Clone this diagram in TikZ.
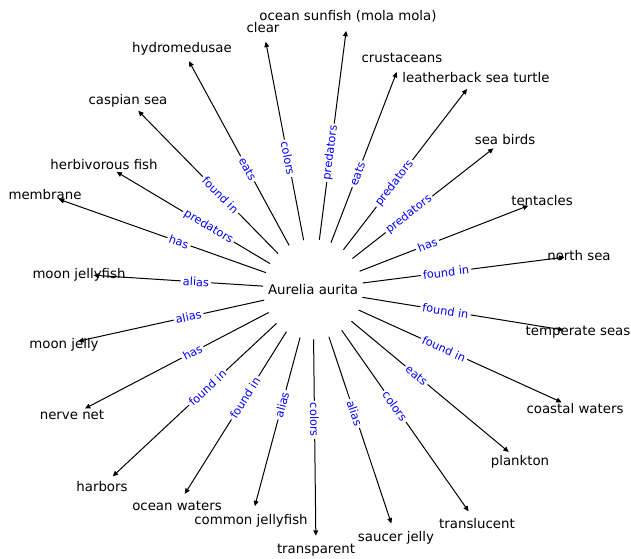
\documentclass[tikz,border=0pt]{standalone}
\usepackage{fontspec}
\setmainfont{DejaVu Sans}
\usetikzlibrary{arrows.meta}
\definecolor{relB}{HTML}{0000FF}

\tikzset{
  ent/.style={font=\fontsize{10}{12}\selectfont, inner sep=0pt, yshift=-1pt},
  rel/.style={midway, sloped, fill=white, text=relB, rounded corners=2pt,
    inner sep=1.6pt, font=\fontsize{8.5}{10}\selectfont},
  link/.style={-{Triangle[length=4pt,width=3.6pt]}, line width=0.75pt,
    shorten <=37.5pt, shorten >=11pt}
}

\begin{document}
\begin{tikzpicture}[x=0.75pt,y=-0.75pt]
\useasboundingbox (0,0) rectangle (631,559);
\node[ent] (hub) at (313,288) {Aurelia aurita};
\node[ent] (sunfish) at (348,15) {ocean sunfish (mola mola)};
\node[ent] (clear) at (263,26) {clear};
\node[ent] (hydro) at (182,47) {hydromedusae};
\node[ent] (caspian) at (128,99) {caspian sea};
\node[ent] (herbfish) at (104,163) {herbivorous fish};
\node[ent] (membrane) at (45,193) {membrane};
\node[ent] (moonjf) at (79,273) {moon jellyfish};
\node[ent] (moonj) at (64,343) {moon jelly};
\node[ent] (nerve) at (72,414) {nerve net};
\node[ent] (harbors) at (102,485) {harbors};
\node[ent] (oceanw) at (177,505) {ocean waters};
\node[ent] (common) at (251,519) {common jellyfish};
\node[ent] (transp) at (316,549) {transparent};
\node[ent] (saucer) at (396,536) {saucer jelly};
\node[ent] (transl) at (477,522) {translucent};
\node[ent] (plankton) at (520,460) {plankton};
\node[ent] (coastal) at (575,407) {coastal waters};
\node[ent] (temperate) at (578,331) {temperate seas};
\node[ent] (northsea) at (579,254) {north sea};
\node[ent] (tentacles) at (542,199) {tentacles};
\node[ent] (seabirds) at (505,138) {sea birds};
\node[ent] (turtle) at (476,76) {leatherback sea turtle};
\node[ent] (crust) at (402,57) {crustaceans};

\foreach \t/\r in {sunfish/predators, clear/colors, hydro/eats, caspian/found in,
    herbfish/predators, membrane/has, moonjf/alias, moonj/alias, nerve/has,
    harbors/found in, oceanw/found in, common/alias, transp/colors,
    saucer/alias, transl/colors, plankton/eats, coastal/found in,
    temperate/found in, northsea/found in, tentacles/has, seabirds/predators,
    turtle/predators, crust/eats}
  \draw[link] (hub.center) -- (\t.center) node[rel] {\r};
\end{tikzpicture}
\end{document}
